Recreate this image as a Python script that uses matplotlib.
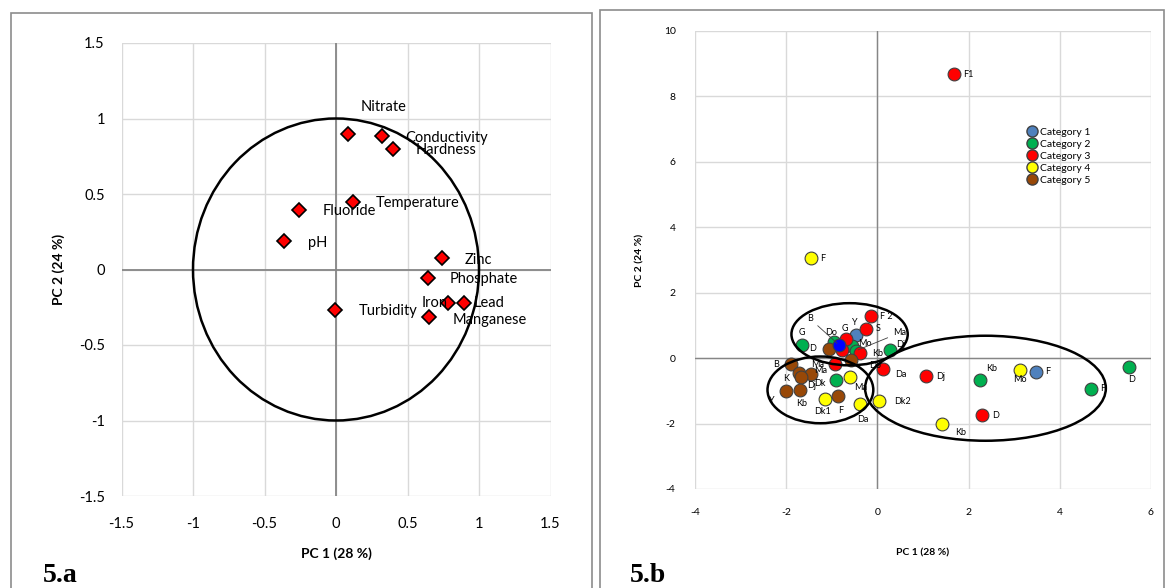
import matplotlib.pyplot as plt
from matplotlib.patches import Ellipse, Rectangle, Circle
from matplotlib.lines import Line2D

plt.rcParams['font.family'] = ['Lato', 'DejaVu Sans']
plt.rcParams['axes.unicode_minus'] = False

# ---------------- 5.a : loadings ----------------
var_names = ['Nitrate', 'Conductivity', 'Hardness', 'Temperature', 'Fluoride', 'pH',
             'Zinc', 'Phosphate', 'Iron', 'Lead', 'Manganese', 'Turbidity']
pc1_load = [0.086, 0.320, 0.401, 0.121, -0.261, -0.361, 0.743, 0.641, 0.785, 0.895, 0.650, -0.007]
pc2_load = [0.900, 0.883, 0.800, 0.448, 0.397, 0.188, 0.073, -0.056, -0.221, -0.225, -0.316, -0.265]
# label offsets in points
var_offsets = {'Nitrate': (9, 19), 'Conductivity': (17, -1), 'Hardness': (16, -1),
               'Temperature': (16, -1), 'Fluoride': (17, -1), 'pH': (17, -1),
               'Zinc': (16, -1), 'Phosphate': (16, -1), 'Iron': (-19, 0),
               'Lead': (7, 0), 'Manganese': (17, -2), 'Turbidity': (17, -1)}
ticks_a = [-1.5, -1, -0.5, 0, 0.5, 1, 1.5]

# ---------------- 5.b : scores ----------------
cat_names = ['Category 1', 'Category 2', 'Category 3', 'Category 4', 'Category 5']
cat_colors = ['#4F81BD', '#00B050', '#FF0000', '#FFFF00', '#984807']

cat1_x = [-0.46, 3.47]
cat1_y = [0.70, -0.42]
cat1_lab = ['Y', 'F']

cat2_x = [-1.66, -0.95, -0.55, -0.48, 0.28, -0.90, 2.26, 4.68, 5.52]
cat2_y = [0.40, 0.50, 0.36, 0.22, 0.24, -0.66, -0.66, -0.93, -0.26]
cat2_lab = ['G', 'Do', 'Mo', 'Ma', 'Dj', 'Dk', 'Kb', 'F', 'D']

cat3_x = [1.67, -0.15, -0.24, -0.68, -0.77, -0.38, -0.93, 0.12, 1.07, 2.30]
cat3_y = [8.68, 1.28, 0.90, 0.60, 0.25, 0.15, -0.18, -0.34, -0.56, -1.74]
cat3_lab = ['F1', 'F 2', 'S', 'G', '', 'Kb', 'Ma', 'Da', 'Dj', 'D']

cat4_x = [-1.46, -0.60, -1.14, -0.39, 0.03, 1.41, 3.13]
cat4_y = [3.06, -0.59, -1.25, -1.41, -1.32, -2.02, -0.36]
cat4_lab = ['F', 'Ma', 'Dk1', 'Da', 'Dk2', 'Kb', 'Mo']

cat5_x = [-1.07, -0.58, -1.89, -1.73, -1.45, -1.67, -2.01, -1.69, -0.86]
cat5_y = [0.28, -0.06, -0.18, -0.44, -0.49, -0.59, -1.00, -0.97, -1.17]
cat5_lab = ['D', 'Do', 'B', 'Ma', 'Dj', 'K', 'Y', 'Kb', 'F']

# highlighted sample
sel_x, sel_y, sel_lab = -0.84, 0.40, 'B'

cats = [(cat1_x, cat1_y, cat1_lab), (cat2_x, cat2_y, cat2_lab), (cat3_x, cat3_y, cat3_lab),
        (cat4_x, cat4_y, cat4_lab), (cat5_x, cat5_y, cat5_lab)]

# label offsets (points) per (category index, label); default = right of marker
lab_off = {
    (0, 'Y'): (-1, 9), (2, 'G'): (-1, 7), (1, 'G'): (0, 9), (1, 'Do'): (-2, 7),
    (4, 'D'): (-9, 0), (1, 'Mo'): (4, 2), (2, 'Kb'): (9, 0), (4, 'Do'): (13, -4),
    (1, 'Dj'): (4, 4), (2, 'Da'): (9, -4), (2, 'Ma'): (-6, -5),
    (4, 'Ma'): (9, 6), (4, 'B'): (-9, 0), (4, 'K'): (-9, -1), (4, 'Dj'): (0, -8),
    (4, 'Y'): (-8, -7), (4, 'Kb'): (1, -10), (4, 'F'): (2, -10),
    (1, 'Dk'): (-8, -3), (3, 'Ma'): (3, -7), (3, 'Dk1'): (-2, -9), (3, 'Da'): (2, -11),
    (3, 'Dk2'): (11, 0), (1, 'Kb'): (4, 8), (3, 'Mo'): (0, -7), (1, 'D'): (2, -9),
    (3, 'Kb'): (10, -6),
}
leader = {(1, 'Ma'): (27, 13)}
ticks_bx = [-4, -2, 0, 2, 4, 6]
ticks_by = [-4, -2, 0, 2, 4, 6, 8, 10]

# ellipses: centre x, centre y, width, height (data units)
ell_x = [-0.61, -1.25, 2.37]
ell_y = [0.73, -0.97, -0.92]
ell_w = [2.55, 2.32, 5.28]
ell_h = [1.90, 2.04, 3.21]

fig = plt.figure(figsize=(11.68, 5.88), dpi=100)

# panel frames
for x0, x1, y0 in [(11, 592, 13), (600, 1164, 10)]:
    fig.patches.append(Rectangle((x0 / 1168, -0.05), (x1 - x0) / 1168, 1.05 - y0 / 588,
                                 transform=fig.transFigure, fill=False,
                                 edgecolor='#8c8c8c', linewidth=1.2))

grid_c = '#d9d9d9'
axis_c = '#868686'

# ---- left ----
ax = fig.add_axes([121.5 / 1168, 1 - 496 / 588, 429 / 1168, 453 / 588])
ax.set_xlim(-1.5, 1.5)
ax.set_ylim(-1.5, 1.5)
ax.set_xticks(ticks_a)
ax.set_yticks(ticks_a)
ax.set_xticklabels([f'{t:g}' for t in ticks_a])
ax.set_yticklabels([f'{t:g}' for t in ticks_a])
ax.grid(True, color=grid_c, linewidth=1)
ax.set_axisbelow(True)
for s in ax.spines.values():
    s.set_visible(False)
ax.tick_params(axis='y', length=0, labelsize=10.5, pad=12)
ax.tick_params(axis='x', length=0, labelsize=10.5, pad=15)
ax.axhline(0, color=axis_c, linewidth=1.3, zorder=1)
ax.axvline(0, color=axis_c, linewidth=1.3, zorder=1)
ax.add_patch(Circle((0, 0), 1, fill=False, edgecolor='black', linewidth=1.8, zorder=2))
ax.plot(pc1_load, pc2_load, 'D', color='#FF0000', markeredgecolor='black',
        markeredgewidth=1.2, markersize=7, zorder=3, clip_on=False)
for n, x, y in zip(var_names, pc1_load, pc2_load):
    ax.annotate(n, (x, y), xytext=var_offsets[n], textcoords='offset points',
                ha='left', va='center', fontsize=10.5, zorder=4)
ax.set_xlabel('PC 1 (28 %)', fontsize=10, fontweight='bold', labelpad=12)
ax.set_ylabel('PC 2 (24 %)', fontsize=10, fontweight='bold', labelpad=10)

# ---- right ----
bx = fig.add_axes([695 / 1168, 1 - 489 / 588, 456 / 1168, 458 / 588])
bx.set_xlim(-4, 6)
bx.set_ylim(-4, 10)
bx.set_xticks(ticks_bx)
bx.set_yticks(ticks_by)
bx.grid(True, color=grid_c, linewidth=1)
bx.set_axisbelow(True)
for s in bx.spines.values():
    s.set_visible(False)
bx.tick_params(length=0, labelsize=7.5, pad=14)
bx.axhline(0, color=axis_c, linewidth=1, zorder=1)
bx.axvline(0, color=axis_c, linewidth=1, zorder=1)

for ex, ey, ew, eh in zip(ell_x, ell_y, ell_w, ell_h):
    bx.add_patch(Ellipse((ex, ey), ew, eh, fill=False, edgecolor='black', linewidth=1.8, zorder=4))

handles = []
for i, ((xs, ys, labs), col, name) in enumerate(zip(cats, cat_colors, cat_names)):
    bx.scatter(xs, ys, s=85, color=col, edgecolors='#404040', linewidths=0.8, zorder=3)
    handles.append(Line2D([], [], marker='o', linestyle='none', markersize=8,
                          markerfacecolor=col, markeredgecolor='#404040', label=name))
    for x, y, lab in zip(xs, ys, labs):
        if not lab:
            continue
        if (i, lab) in leader:
            bx.annotate(lab, (x, y), xytext=leader[(i, lab)], textcoords='offset points',
                        ha='left', va='center', fontsize=6.5,
                        arrowprops=dict(arrowstyle='-', color='#404040', lw=0.6), zorder=5)
            continue
        dx, dy = lab_off.get((i, lab), (7, 0))
        ha = 'left' if dx >= 3 else ('right' if dx <= -3 else 'center')
        bx.annotate(lab, (x, y), xytext=(dx, dy), textcoords='offset points',
                    ha=ha, va='center', fontsize=6.5, zorder=5)

bx.scatter([sel_x], [sel_y], s=85, color='#0000FF', edgecolors='#404040', linewidths=0.8, zorder=3)
bx.annotate(sel_lab, (sel_x, sel_y), xytext=(-21, 19), textcoords='offset points',
            ha='center', va='center', fontsize=6.5,
            arrowprops=dict(arrowstyle='-', color='#404040', lw=0.6), zorder=5)

bx.legend(handles=handles, loc='upper left', bbox_to_anchor=(0.715, 0.80), frameon=False,
          fontsize=7.5, handletextpad=0.1, labelspacing=0.25, borderpad=0, handlelength=1.2)
bx.set_xlabel('PC 1 (28 %)', fontsize=7.5, fontweight='bold', labelpad=22)
bx.set_ylabel('PC 2 (24 %)', fontsize=7.5, fontweight='bold', labelpad=14)

fig.text(43 / 1168, 1 - 582 / 588, '5.a', fontsize=20, fontweight='bold',
         family='Liberation Serif', va='baseline')
fig.text(630 / 1168, 1 - 582 / 588, '5.b', fontsize=20, fontweight='bold',
         family='Liberation Serif', va='baseline')

fig.savefig('out.png', dpi=100)
